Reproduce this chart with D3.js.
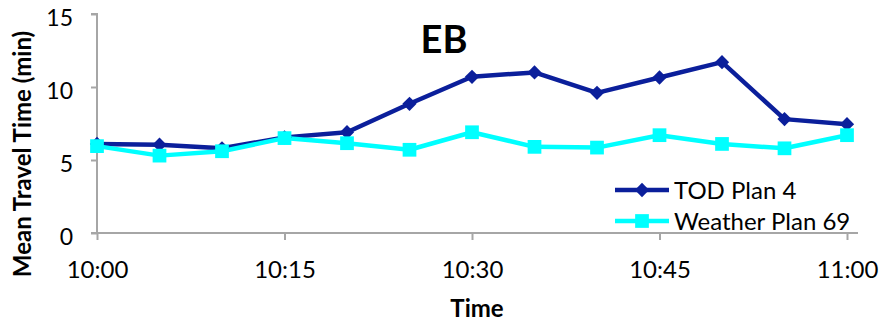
<!DOCTYPE html>
<html><head><meta charset="utf-8">
<script src="https://cdn.jsdelivr.net/npm/d3@7"></script>
<style>body{margin:0;background:#fff}svg{display:block}</style>
</head><body>
<svg id="c" width="881" height="324"></svg>
<script>
const times = ["10:00","10:05","10:10","10:15","10:20","10:25","10:30","10:35","10:40","10:45","10:50","10:55","11:00"];
const tickLabels = ["10:00","10:15","10:30","10:45","11:00"];
const todPlan4 = [6.1,6.05,5.8,6.55,6.9,8.85,10.7,11.0,9.6,10.65,11.7,7.8,7.45];
const weatherPlan69 = [5.95,5.3,5.6,6.5,6.15,5.7,6.9,5.9,5.85,6.7,6.1,5.8,6.7];
const yTicks = [0,5,10,15];
const seriesNames = ["TOD Plan 4","Weather Plan 69"];

const font = "Lato, 'Open Sans', sans-serif";
const svg = d3.select("#c");
const x = d3.scalePoint().domain(times).range([97,847]);
const y = d3.scaleLinear().domain([0,15]).range([233,14]);
const axisColor = "#a6a6a6";

// y axis
const ya = svg.append("g").attr("transform","translate(97,0)")
  .call(d3.axisLeft(y).tickValues(yTicks).tickSize(6).tickPadding(8));
ya.select(".domain").attr("stroke",axisColor).attr("stroke-width",2).attr("d","M-6,14H0V233H-6");
ya.selectAll(".tick line").attr("stroke",axisColor).attr("stroke-width",2);
ya.selectAll("text").attr("font-family",font).attr("font-size",23).attr("fill","#000")
  .attr("dx",-10).attr("dy","0.48em");

// x axis
const xa = svg.append("g").attr("transform","translate(0,233)")
  .call(d3.axisBottom(x).tickValues(tickLabels).tickSize(7).tickPadding(21));
xa.select(".domain").attr("stroke",axisColor).attr("stroke-width",2).attr("d","M97,0H858");
xa.selectAll(".tick line").attr("stroke",axisColor).attr("stroke-width",2);
xa.selectAll("text").attr("font-family",font).attr("font-size",24).attr("fill","#000");

const colors = ["#0b1f9b","#00ffff"];
const data = [todPlan4, weatherPlan69];
const line = d3.line().x((d,i)=>x(times[i])).y(d=>y(d));

data.forEach((vals,k)=>{
  svg.append("path").datum(vals).attr("d",line).attr("fill","none")
    .attr("stroke",colors[k]).attr("stroke-width",4.5).attr("stroke-linejoin","round");
});
data.forEach((vals,k)=>{
  const sym = k===0 ? d3.symbol().type(d3.symbolDiamond2).size(130) : d3.symbol().type(d3.symbolSquare2).size(240);
  svg.append("g").selectAll("path").data(vals).join("path")
    .attr("transform",(d,i)=>`translate(${x(times[i])},${y(d)})`)
    .attr("d",sym).attr("fill",colors[k]);
});

// title
svg.append("text").attr("x",444).attr("y",53).attr("text-anchor","middle")
  .attr("font-family",font).attr("font-weight","bold").attr("font-size",38).text("EB");

// axis titles
svg.append("text").attr("x",477).attr("y",317).attr("text-anchor","middle")
  .attr("font-family",font).attr("font-weight","bold").attr("font-size",24).text("Time");
svg.append("text").attr("transform","translate(31,154) rotate(-90)").attr("text-anchor","middle")
  .attr("font-family",font).attr("font-weight","bold").attr("font-size",24).text("Mean Travel Time (min)");

// legend
seriesNames.forEach((n,k)=>{
  const ly = 190 + k*31;
  const g = svg.append("g");
  g.append("line").attr("x1",615).attr("x2",669).attr("y1",ly).attr("y2",ly)
    .attr("stroke",colors[k]).attr("stroke-width",4.5);
  const sym = k===0 ? d3.symbol().type(d3.symbolDiamond2).size(130) : d3.symbol().type(d3.symbolSquare2).size(240);
  g.append("path").attr("transform",`translate(642,${ly})`).attr("d",sym).attr("fill",colors[k]);
  g.append("text").attr("x",674).attr("y",ly+9).attr("font-family",font).attr("font-size",24).text(n);
});
</script>
</body></html>
